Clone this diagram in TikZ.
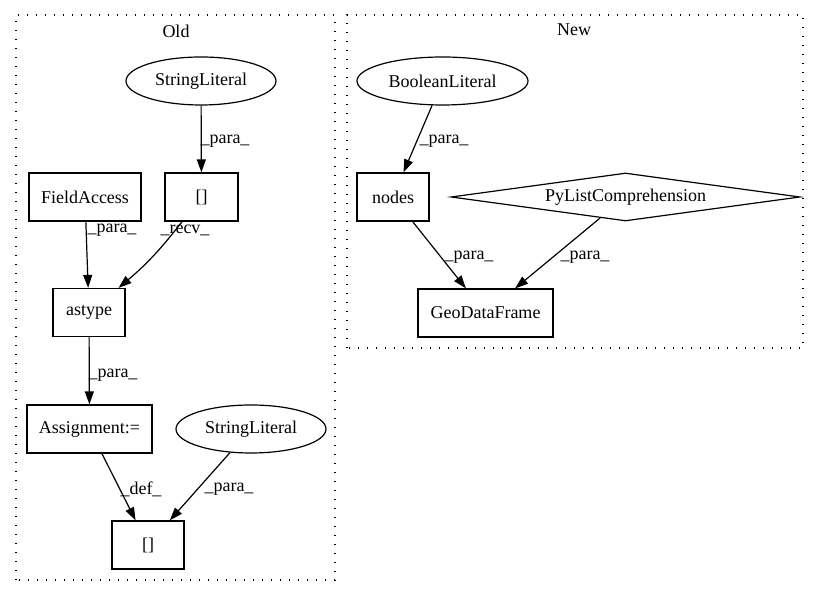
\documentclass[tikz,border=0pt]{standalone}
\usepackage{fontspec}
\setmainfont{Liberation Serif}
\usetikzlibrary{shapes.geometric,arrows.meta}

\begin{document}
\begin{tikzpicture}[x=1pt,y=1pt,
		font=\fontsize{18}{21}\selectfont,
		box/.style={draw, line width=1.2pt, inner sep=0pt, minimum height=48pt},
		oval/.style={draw, ellipse, line width=1.2pt, inner sep=0pt, minimum height=48pt},
		rhomb/.style={draw, diamond, aspect=7, line width=1.2pt, inner sep=0pt},
		edge/.style={line width=1.2pt, -{Triangle[length=13pt,width=9pt]}},
		lbl/.style={inner sep=0pt},
		cluster/.style={line width=1.3pt, dash pattern=on 1.3pt off 7.7pt}]
		\useasboundingbox (0,0) rectangle (819,596);
		% clusters
		\draw[cluster] (16,16) rectangle (335,581);
		\draw[cluster] (347,248) rectangle (803,581);
		\node (old) at (176,565) {Old};
		\node (new) at (574,566) {New};
		% old
		\node[oval, minimum width=150pt] (sl1) at (201,515) {StringLiteral};
		\node[box, minimum width=73pt] (br1) at (201.5,399) {[]};
		\node[box, minimum width=112pt] (fa) at (85,399) {FieldAccess};
		\node[box, minimum width=72pt] (ast) at (89,283.5) {astype};
		\node[box, minimum width=125pt] (asg) at (89.5,167) {Assignment:=};
		\node[oval, minimum width=150pt] (sl2) at (251,167) {StringLiteral};
		\node[box, minimum width=72pt] (br2) at (148,51) {[]};
		% new
		\node[oval, minimum width=171pt] (bl) at (442.5,515) {BooleanLiteral};
		\node[box, minimum width=72pt] (nd) at (393,399) {nodes};
		\node[rhomb, minimum width=349pt, minimum height=48pt] (plc) at (625.5,399) {PyListComprehension};
		\node[box, minimum width=135pt] (gdf) at (485.5,283) {GeoDataFrame};
		% edges
		\draw[edge] (sl1) -- (br1) node[lbl] (e1) at (225,455) {\_para\_};
		\draw[edge] (fa) -- (ast) node[lbl] (e2) at (112,366) {\_para\_};
		\draw[edge] (br1) to[bend left=6] (ast) node[lbl] (e3) at (185,366) {\_recv\_};
		\draw[edge] (ast) -- (asg) node[lbl] (e4) at (113,221) {\_para\_};
		\draw[edge] (asg) -- (br2) node[lbl] (e5) at (141,107) {\_def\_};
		\draw[edge] (sl2) -- (br2) node[lbl] (e6) at (229,107) {\_para\_};
		\draw[edge] (bl) -- (nd) node[lbl] (e7) at (444,455) {\_para\_};
		\draw[edge] (nd) -- (gdf) node[lbl] (e8) at (469,339) {\_para\_};
		\draw[edge] (plc) -- (gdf) node[lbl] (e9) at (585,339) {\_para\_};
\end{tikzpicture}
\end{document}
